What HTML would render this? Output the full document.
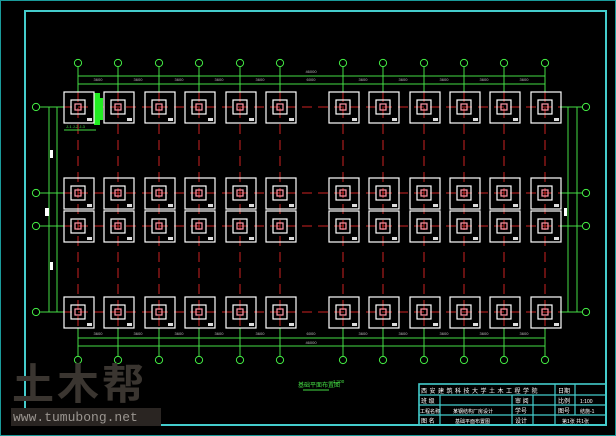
<!DOCTYPE html>
<html><head><meta charset="utf-8"><style>
html,body{margin:0;padding:0;background:#000;width:616px;height:436px;overflow:hidden}
svg{display:block}
</style></head><body>
<svg width="616" height="436" viewBox="0 0 616 436" xmlns="http://www.w3.org/2000/svg" font-family="Liberation Sans, Noto Sans CJK SC, sans-serif">
<defs>
<g id="f">
<rect x="-14" y="-15" width="30" height="31" fill="none" stroke="#fff" stroke-width="1.2"/>
<rect x="-7" y="-7" width="14" height="14" fill="none" stroke="#fff" stroke-width="1.2"/>
<rect x="-3" y="-3" width="6" height="6" fill="none" stroke="#f9a" stroke-width="1.2"/>
<rect x="9" y="11" width="5" height="3" fill="#ddd"/>
</g>
<g id="c"><circle r="3.6" fill="none" stroke="#4e4" stroke-width="1"/></g>
</defs>
<rect x="0.5" y="0.5" width="615" height="435" fill="none" stroke="#1a9a9a" stroke-width="1"/>
<rect x="25" y="11" width="581" height="414" fill="none" stroke="#4cc" stroke-width="2"/>

<g stroke="#c22" stroke-width="1" stroke-dasharray="10,6">
<line x1="62" y1="107" x2="562" y2="107"/><line x1="62" y1="193" x2="562" y2="193"/>
<line x1="62" y1="226" x2="562" y2="226"/><line x1="62" y1="312" x2="562" y2="312"/>
<line x1="78" y1="92" x2="78" y2="328"/>
<line x1="118" y1="92" x2="118" y2="328"/><line x1="159" y1="92" x2="159" y2="328"/>
<line x1="199" y1="92" x2="199" y2="328"/><line x1="240" y1="92" x2="240" y2="328"/>
<line x1="280" y1="92" x2="280" y2="328"/><line x1="343" y1="92" x2="343" y2="328"/>
<line x1="383" y1="92" x2="383" y2="328"/><line x1="424" y1="92" x2="424" y2="328"/>
<line x1="464" y1="92" x2="464" y2="328"/><line x1="504" y1="92" x2="504" y2="328"/>
<line x1="545" y1="92" x2="545" y2="328"/>
</g>

<g stroke="#4d4" stroke-width="1">
<line x1="78" y1="76" x2="545" y2="76"/><line x1="78" y1="84" x2="545" y2="84"/>
<line x1="78" y1="338" x2="545" y2="338"/><line x1="78" y1="346" x2="545" y2="346"/>
<line x1="49" y1="107" x2="49" y2="312"/><line x1="57" y1="107" x2="57" y2="312"/>
<line x1="568" y1="107" x2="568" y2="312"/><line x1="577" y1="107" x2="577" y2="312"/>
<line x1="40" y1="107" x2="64" y2="107"/><line x1="40" y1="193" x2="64" y2="193"/><line x1="40" y1="226" x2="64" y2="226"/><line x1="40" y1="312" x2="64" y2="312"/>
<line x1="560" y1="107" x2="582" y2="107"/><line x1="560" y1="193" x2="582" y2="193"/><line x1="560" y1="226" x2="582" y2="226"/><line x1="560" y1="312" x2="582" y2="312"/>
<path d="M78 67V92M118 67V92M159 67V92M199 67V92M240 67V92M280 67V92M343 67V92M383 67V92M424 67V92M464 67V92M504 67V92M545 67V92"/>
<path d="M78 328V356M118 328V356M159 328V356M199 328V356M240 328V356M280 328V356M343 328V356M383 328V356M424 328V356M464 328V356M504 328V356M545 328V356"/>
<line x1="64" y1="130" x2="96" y2="130"/>
</g>
<rect x="94" y="93" width="6" height="32" fill="#2e2"/>
<rect x="100" y="98" width="3" height="22" fill="#2e2"/>
<text x="66" y="128" font-size="4" fill="#4d4">J-1 J-2 J-3</text>

<g>
<use href="#c" x="78" y="63"/><use href="#c" x="118" y="63"/><use href="#c" x="159" y="63"/><use href="#c" x="199" y="63"/><use href="#c" x="240" y="63"/><use href="#c" x="280" y="63"/><use href="#c" x="343" y="63"/><use href="#c" x="383" y="63"/><use href="#c" x="424" y="63"/><use href="#c" x="464" y="63"/><use href="#c" x="504" y="63"/><use href="#c" x="545" y="63"/>
<use href="#c" x="78" y="360"/><use href="#c" x="118" y="360"/><use href="#c" x="159" y="360"/><use href="#c" x="199" y="360"/><use href="#c" x="240" y="360"/><use href="#c" x="280" y="360"/><use href="#c" x="343" y="360"/><use href="#c" x="383" y="360"/><use href="#c" x="424" y="360"/><use href="#c" x="464" y="360"/><use href="#c" x="504" y="360"/><use href="#c" x="545" y="360"/>
<use href="#c" x="36" y="107"/><use href="#c" x="36" y="193"/><use href="#c" x="36" y="226"/><use href="#c" x="36" y="312"/>
<use href="#c" x="586" y="107"/><use href="#c" x="586" y="193"/><use href="#c" x="586" y="226"/><use href="#c" x="586" y="312"/>
</g>

<g id="r1">
<use href="#f" x="78" y="107"/><use href="#f" x="118" y="107"/><use href="#f" x="159" y="107"/><use href="#f" x="199" y="107"/><use href="#f" x="240" y="107"/><use href="#f" x="280" y="107"/><use href="#f" x="343" y="107"/><use href="#f" x="383" y="107"/><use href="#f" x="424" y="107"/><use href="#f" x="464" y="107"/><use href="#f" x="504" y="107"/><use href="#f" x="545" y="107"/>
</g>
<use href="#r1" y="86"/><use href="#r1" y="119"/><use href="#r1" y="205"/>

<g font-size="4" fill="#bbb" text-anchor="middle">
<text x="98" y="81">3600</text><text x="138" y="81">3600</text><text x="179" y="81">3600</text><text x="219" y="81">3600</text><text x="260" y="81">3600</text><text x="311" y="81">6000</text><text x="363" y="81">3600</text><text x="403" y="81">3600</text><text x="444" y="81">3600</text><text x="484" y="81">3600</text><text x="524" y="81">3600</text>
<text x="311" y="73">46000</text>
<text x="98" y="335">3600</text><text x="138" y="335">3600</text><text x="179" y="335">3600</text><text x="219" y="335">3600</text><text x="260" y="335">3600</text><text x="311" y="335">6000</text><text x="363" y="335">3600</text><text x="403" y="335">3600</text><text x="444" y="335">3600</text><text x="484" y="335">3600</text><text x="524" y="335">3600</text>
<text x="311" y="344">46000</text>
</g>
<rect x="45" y="208" width="4" height="8" fill="#fff"/>
<rect x="50" y="150" width="3" height="8" fill="#fff"/>
<rect x="50" y="262" width="3" height="8" fill="#fff"/>
<rect x="564" y="208" width="3" height="8" fill="#fff"/>

<text x="298" y="387" font-size="6" fill="#4d4">基础平面布置图</text>
<text x="333" y="383" font-size="4.5" fill="#4d4">1:100</text>
<line x1="303" y1="390" x2="329" y2="390" stroke="#4d4" stroke-width="1"/>

<g stroke="#4cc" stroke-width="1.2" fill="none">
<rect x="419" y="384" width="187" height="41" stroke-width="1.6"/>
<line x1="419" y1="395" x2="606" y2="395"/><line x1="419" y1="405" x2="606" y2="405"/><line x1="419" y1="415" x2="606" y2="415"/>
<line x1="440" y1="395" x2="440" y2="425"/><line x1="512" y1="395" x2="512" y2="425"/><line x1="533" y1="395" x2="533" y2="425"/>
<line x1="555" y1="384" x2="555" y2="425"/><line x1="575" y1="384" x2="575" y2="415"/>
</g>
<g font-size="6" fill="#fff">
<text x="421" y="393" letter-spacing="2.5">西安建筑科技大学土木工程学院</text>
<text x="558" y="393">日期</text>
<text x="421" y="403">班 级</text><text x="515" y="403">审 阅</text><text x="558" y="403">比例</text><text x="580" y="403" font-size="5">1:100</text>
<text x="420" y="413" font-size="5">工程名称</text><text x="453" y="413" font-size="5">某钢结构厂房设计</text><text x="515" y="413">学号</text><text x="558" y="413">图号</text><text x="580" y="413" font-size="5">结施-1</text>
<text x="421" y="423">图 名</text><text x="455" y="423" font-size="5">基础平面布置图</text><text x="515" y="423">设计</text><text x="562" y="423" font-size="5">第1张 共1张</text>
</g>

<text x="12" y="399" font-size="42" font-weight="bold" fill="#3a3530" letter-spacing="3">土木帮</text>
<rect x="11" y="408" width="150" height="18" fill="#2a2522"/>
<text x="13" y="421" font-size="13" fill="#9a9590" font-family="Liberation Mono, monospace">www.tumubong.net</text>
</svg>
</body></html>
